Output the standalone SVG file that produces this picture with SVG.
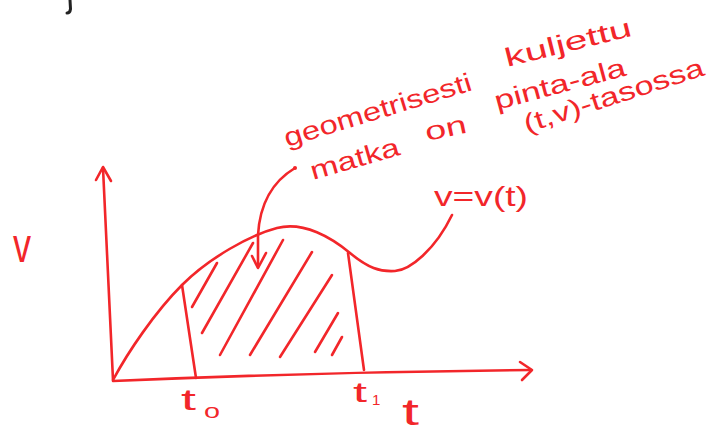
<svg xmlns="http://www.w3.org/2000/svg" width="717" height="437" viewBox="0 0 717 437">
<style>
.ink{fill:none;stroke:#f2262a;stroke-width:2.6;stroke-linecap:round;stroke-linejoin:round}
.lbl{fill:#f2262a;font-family:"Liberation Sans","DejaVu Sans",sans-serif}
.note{font-size:26px}
</style>
<rect width="717" height="437" fill="#ffffff"/>
<path d="M70,0 L70.5,9 Q70,13 67,13" fill="none" stroke="#222" stroke-width="3" stroke-linecap="round"/>
<g id="axes">
<path class="ink" d="M113,380 L103,168"/>
<path class="ink" d="M96,180 L103,167 L111,181"/>
<path class="ink" d="M113,381 Q320,372 531,370"/>
<path class="ink" d="M520,362 L532,370 L522,380"/>
</g>
<g id="curve">
<path class="ink" d="M113,380 C128,352 155,312 182,285 S250,235 277,228 S332,238 350,253 S380,272 395,271 S435,250 452,215"/>
</g>
<g id="bounds">
<path class="ink" d="M182,285 L196,378"/>
<path class="ink" d="M348,253 L364,370"/>
</g>
<g id="hatching">
<path class="ink" d="M192,307 L217,263"/>
<path class="ink" d="M202,333 L253,243"/>
<path class="ink" d="M220,355 L283,240"/>
<path class="ink" d="M250,355 L312,252"/>
<path class="ink" d="M280,357 L332,275"/>
<path class="ink" d="M315,352 L338,313"/>
<path class="ink" d="M332,355 L342,337"/>
</g>
<g id="connectors">
<path class="ink" d="M295,168 C275,180 260,200 258,235 L258,267"/>
<path class="ink" d="M252,256 L258,268 L266,253"/>
<circle cx="295" cy="168" r="2" fill="#f2262a"/>
</g>
<g id="label-v">
<text class="lbl" x="13" y="262" font-size="48" textLength="18" lengthAdjust="spacingAndGlyphs">v</text>
</g>
<g id="label-function">
<text class="lbl" x="434" y="206" font-size="28" textLength="94" lengthAdjust="spacingAndGlyphs">v=v(t)</text>
</g>
<g id="label-t0">
<text class="lbl" x="181" y="410" font-size="29" textLength="15" lengthAdjust="spacingAndGlyphs">t</text>
<text class="lbl" x="204" y="418" font-size="21" textLength="16" lengthAdjust="spacingAndGlyphs">o</text>
</g>
<g id="label-t1">
<text class="lbl" x="353" y="402" font-size="28" textLength="14" lengthAdjust="spacingAndGlyphs">t</text>
<text class="lbl" x="372" y="405" font-size="15">1</text>
</g>
<g id="label-t">
<text class="lbl" x="402" y="425" font-size="37" textLength="17" lengthAdjust="spacingAndGlyphs">t</text>
</g>
<g id="annotation">
<text class="lbl note" x="287" y="147" transform="rotate(-17 287 147)" textLength="195" lengthAdjust="spacingAndGlyphs">geometrisesti</text>
<text class="lbl note" x="507" y="67" transform="rotate(-14 507 67)" textLength="130" lengthAdjust="spacingAndGlyphs">kuljettu</text>
<text class="lbl note" x="313" y="180" transform="rotate(-16 313 180)" textLength="92" lengthAdjust="spacingAndGlyphs">matka</text>
<text class="lbl note" x="427" y="141" transform="rotate(-12 427 141)" textLength="42" lengthAdjust="spacingAndGlyphs">on</text>
<text class="lbl note" x="497" y="110" transform="rotate(-15 497 110)" textLength="135" lengthAdjust="spacingAndGlyphs">pinta-ala</text>
<text class="lbl note" x="527" y="133" transform="rotate(-18 527 133)" textLength="188" lengthAdjust="spacingAndGlyphs">(t,v)-tasossa</text>
</g>
</svg>
